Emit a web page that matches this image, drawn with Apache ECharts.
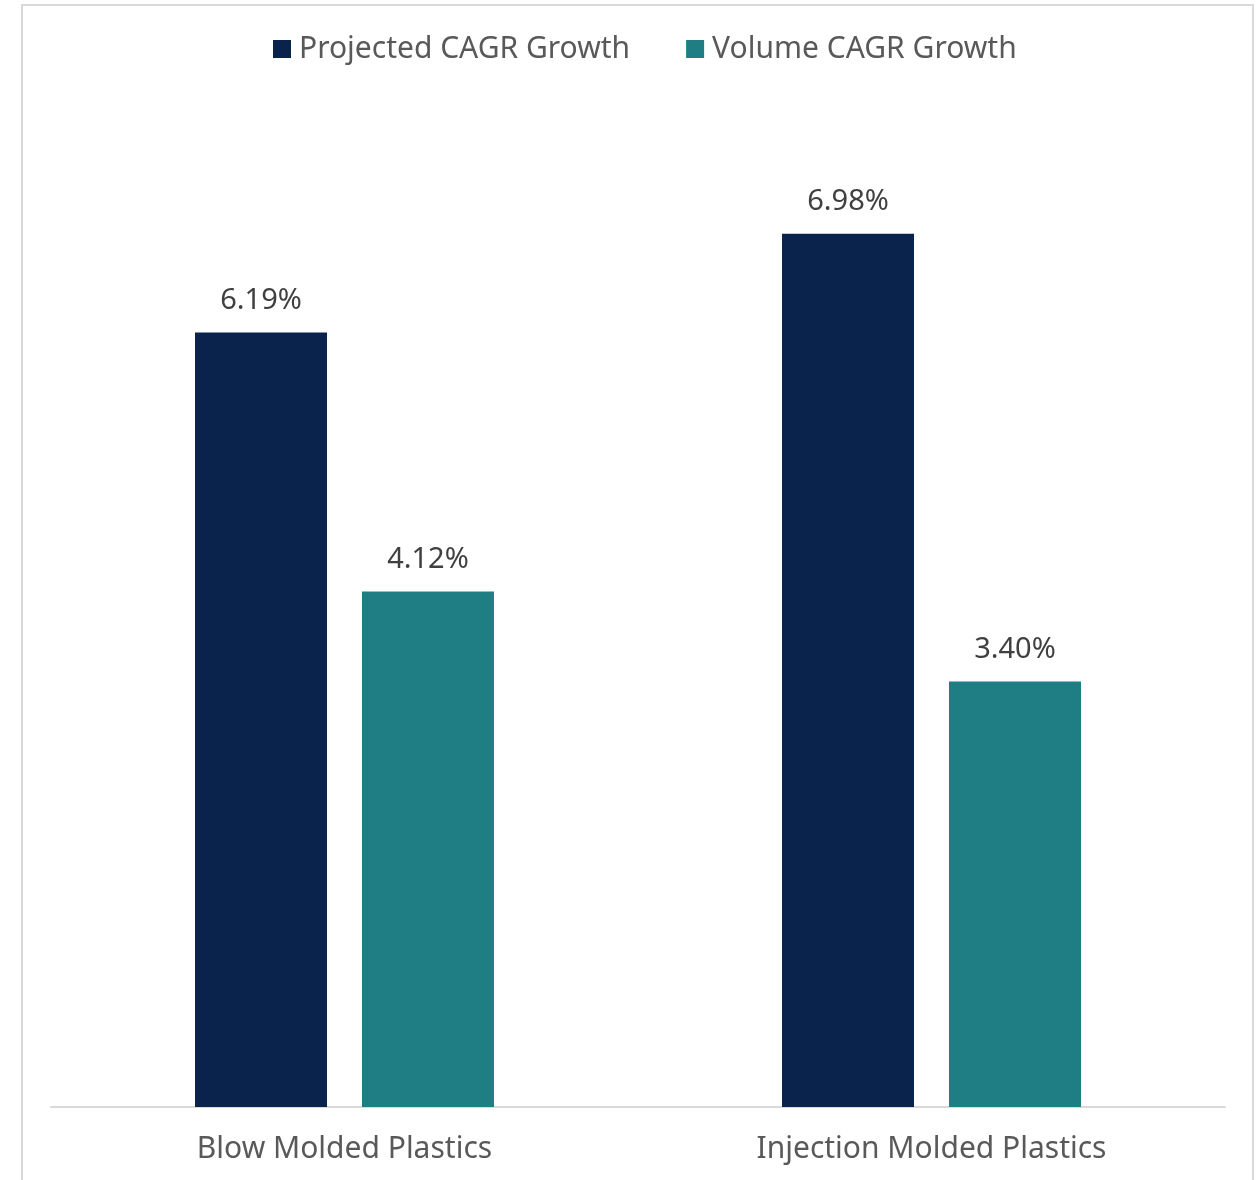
<!DOCTYPE html>
<html>
<head>
<meta charset="utf-8">
<script src="https://cdn.jsdelivr.net/npm/echarts@6/dist/echarts.min.js"></script>
<style>
  html, body { margin: 0; padding: 0; background: #fff; }
  #chart { width: 1256px; height: 1180px; }
</style>
</head>
<body>
<div id="chart"></div>
<script>
var categories = ["Blow Molded Plastics", "Injection Molded Plastics"];
var projectedCagr = [6.19, 6.98];
var volumeCagr = [4.12, 3.40];
var seriesNames = ["Projected CAGR Growth", "Volume CAGR Growth"];

var textColor = "#595959";
var fontFamily = "'Noto Sans', sans-serif";

var chart = echarts.init(document.getElementById("chart"));

var labelStyle = {
  show: true,
  position: "top",
  distance: 17,
  color: "#404040",
  fontSize: 29,
  fontFamily: fontFamily,
  formatter: function (p) { return p.value.toFixed(2) + "%"; }
};

chart.setOption({
  animation: false,
  backgroundColor: "#fff",
  graphic: [{
    type: "rect",
    shape: { x: 22, y: 5, width: 1231, height: 1200 },
    style: { fill: "none", stroke: "#d9d9d9", lineWidth: 2 },
    silent: true
  }],
  legend: {
    data: seriesNames,
    top: 29,
    left: 268,
    icon: "rect",
    itemWidth: 18,
    itemHeight: 18,
    itemGap: 56,
    textStyle: { color: textColor, fontSize: 30, fontFamily: fontFamily, padding: [0, 0, 0, 3] }
  },
  grid: { left: 51, right: 31, top: 106, bottom: 73 },
  xAxis: {
    type: "category",
    data: categories,
    axisLine: { show: true, lineStyle: { color: "#d9d9d9", width: 2 } },
    axisTick: { show: false },
    axisLabel: { color: textColor, fontSize: 30, fontFamily: fontFamily, margin: 27 }
  },
  yAxis: {
    type: "value",
    min: 0,
    max: 8,
    show: false,
    splitLine: { show: false }
  },
  series: [
    {
      name: seriesNames[0],
      type: "bar",
      data: projectedCagr,
      barWidth: 132,
      barGap: "26.5%",
      itemStyle: { color: "#0a234d" },
      label: labelStyle
    },
    {
      name: seriesNames[1],
      type: "bar",
      data: volumeCagr,
      barWidth: 132,
      itemStyle: { color: "#1e7e83" },
      label: labelStyle
    }
  ]
});
</script>
</body>
</html>
